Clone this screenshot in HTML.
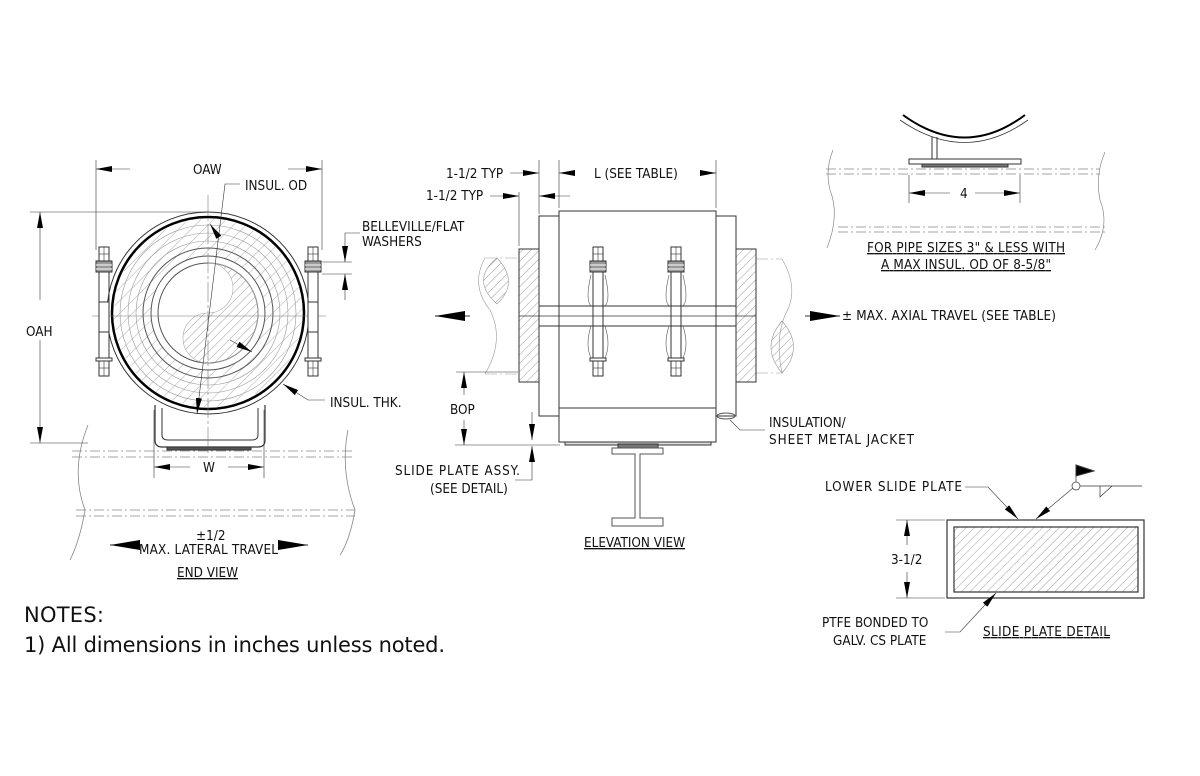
<!DOCTYPE html>
<html><head><meta charset="utf-8"><style>
html,body{margin:0;padding:0;background:#fff;width:1200px;height:776px;overflow:hidden}
svg{display:block}
text{font-family:"DejaVu Sans Condensed","Liberation Sans",sans-serif;font-size:13.4px;fill:#111}
</style></head><body>
<svg width="1200" height="776" viewBox="0 0 1200 776" xmlns="http://www.w3.org/2000/svg">
<defs>
<pattern id="h" width="6" height="6" patternUnits="userSpaceOnUse" patternTransform="rotate(45)">
<line x1="0" y1="0" x2="0" y2="6" stroke="#777" stroke-width="0.7"/></pattern>
<pattern id="hw" width="9" height="9" patternUnits="userSpaceOnUse" patternTransform="rotate(45)">
<line x1="0" y1="0" x2="0" y2="9" stroke="#888" stroke-width="0.7"/></pattern>
<marker id="a" markerWidth="16" markerHeight="6" refX="16" refY="3" orient="auto" markerUnits="userSpaceOnUse"><path d="M0,0 L16,3 L0,6 z" fill="#000"/></marker>
<marker id="b" markerWidth="30" markerHeight="10" refX="30" refY="5" orient="auto" markerUnits="userSpaceOnUse"><path d="M0,0 L30,5 L0,10 z" fill="#000"/></marker>
<g id="bolt">
<rect x="-5" y="0" width="10" height="14" fill="#fff" stroke="#333"/>
<line x1="0" y1="0" x2="0" y2="14" stroke="#333" stroke-width=".6"/>
<line x1="-5" y1="7" x2="5" y2="7" stroke="#333" stroke-width=".6"/>
<rect x="-8" y="14" width="16" height="11" fill="#999" stroke="#333"/>
<line x1="-8" y1="18" x2="8" y2="18" stroke="#fff"/><line x1="-8" y1="22" x2="8" y2="22" stroke="#fff"/>
<rect x="-5" y="25" width="10" height="86" fill="none" stroke="#333"/>
<rect x="-8" y="111" width="16" height="3" fill="#fff" stroke="#333"/>
<rect x="-5" y="114" width="10" height="15" fill="#fff" stroke="#333"/>
<line x1="0" y1="114" x2="0" y2="129" stroke="#333" stroke-width=".6"/>
<line x1="-5" y1="121" x2="5" y2="121" stroke="#333" stroke-width=".6"/>
</g>
</defs>
<g fill="none" stroke="#333" stroke-width="1">
<path d="M88,425 Q70,470 85,510 Q80,540 70,560" stroke="#888" stroke-width=".8"/>
<path d="M348,430 Q340,470 355,510 Q350,540 340,555" stroke="#888" stroke-width=".8"/>
<g stroke="#888" stroke-width=".8" stroke-dasharray="10,3,2,3">
<line x1="72" y1="451" x2="352" y2="451"/><line x1="72" y1="457" x2="352" y2="457"/>
<line x1="76" y1="510" x2="355" y2="510"/><line x1="76" y1="516" x2="355" y2="516"/></g>
<path d="M155,405 L155,440 Q155,447 162,447 L258,447 Q265,447 265,440 L265,405" stroke-width="1.2"/>
<path d="M162,408 L162,435 Q162,440 168,440 L252,440 Q258,440 258,435 L258,408"/>
<rect x="167" y="447" width="84" height="3" fill="#555"/>
<circle cx="208" cy="313" r="101" stroke-width="1"/>
<circle cx="208" cy="313" r="96" stroke="#000" stroke-width="2.5"/>
<circle cx="208" cy="313" r="94" fill="url(#hw)" stroke="none"/>
<circle cx="208" cy="313" r="88" stroke="#999" stroke-width=".6"/>
<circle cx="208" cy="313" r="80" stroke="#999" stroke-width=".6"/>
<circle cx="208" cy="313" r="72" stroke="#999" stroke-width=".6"/>
<circle cx="208" cy="313" r="65" stroke="#555"/>
<circle cx="208" cy="313" r="57" stroke="#555" fill="#fff"/>
<circle cx="208" cy="313" r="50" stroke="#555"/>
<path d="M208,263 A50,50 0 0 1 208,363 A25,25 0 0 1 208,313 A25,25 0 0 0 208,263 Z" fill="url(#h)" stroke="#aaa" stroke-width=".6"/>
<line x1="208" y1="195" x2="208" y2="455" stroke="#777" stroke-width=".6" stroke-dasharray="20,3,3,3"/>
<line x1="92" y1="316" x2="326" y2="316" stroke="#777" stroke-width=".6"/>
<use href="#bolt" x="104" y="247"/>
<use href="#bolt" x="313" y="247"/>
<rect x="99" y="302" width="10" height="30" fill="#fff" stroke="#333"/>
<rect x="308" y="302" width="10" height="30" fill="#fff" stroke="#333"/>
<line x1="96" y1="160" x2="96" y2="250" stroke-width=".6"/>
<line x1="322" y1="160" x2="322" y2="250" stroke-width=".6"/>
<line x1="130" y1="169" x2="96" y2="169" stroke-width=".6" marker-end="url(#a)"/>
<line x1="288" y1="169" x2="322" y2="169" stroke-width=".6" marker-end="url(#a)"/>
<line x1="30" y1="212" x2="208" y2="212" stroke-width=".6"/>
<line x1="30" y1="443" x2="88" y2="443" stroke-width=".6"/>
<line x1="40" y1="300" x2="40" y2="212" stroke-width=".6" marker-end="url(#a)"/>
<line x1="40" y1="340" x2="40" y2="443" stroke-width=".6" marker-end="url(#a)"/>
<line x1="154" y1="410" x2="154" y2="478" stroke-width=".6"/>
<line x1="264" y1="410" x2="264" y2="478" stroke-width=".6"/>
<line x1="190" y1="467" x2="154" y2="467" stroke-width=".6" marker-end="url(#a)"/>
<line x1="228" y1="467" x2="264" y2="467" stroke-width=".6" marker-end="url(#a)"/>
<line x1="140" y1="545" x2="110" y2="545" marker-end="url(#b)"/>
<line x1="278" y1="545" x2="308" y2="545" marker-end="url(#b)"/>
<polyline points="240,184 225,184 197,414" stroke-width=".6" marker-end="url(#a)"/>
<line x1="214" y1="230" x2="210" y2="224" stroke-width=".6" marker-end="url(#a)"/>
<line x1="230" y1="340" x2="252" y2="352" stroke-width=".6" marker-end="url(#a)"/>
<polyline points="325,400 308,400 283,384" stroke-width=".6" marker-end="url(#a)"/>
<polyline points="360,233 345,233 345,262" stroke-width=".6" marker-end="url(#a)"/>
<line x1="345" y1="300" x2="345" y2="274" stroke-width=".6" marker-end="url(#a)"/>
<line x1="322" y1="262" x2="352" y2="262" stroke-width=".6"/>
<line x1="322" y1="274" x2="352" y2="274" stroke-width=".6"/>

<path d="M497,258 Q470,280 497,304 Q520,282 497,258Z" fill="url(#h)" stroke="#999" stroke-width=".6"/>
<path d="M485,258 L519,258 M485,374 L519,374" stroke="#999" stroke-width=".6" stroke-dasharray="12,3,2,3"/>
<path d="M485,258 Q470,285 490,310 Q505,340 485,374" stroke="#999" stroke-width=".6"/>
<path d="M782,321 Q760,347 782,373 Q805,347 782,321Z" fill="url(#h)" stroke="#999" stroke-width=".6"/>
<path d="M756,259 L782,259 M756,373 L782,373" stroke="#999" stroke-width=".6" stroke-dasharray="12,3,2,3"/>
<path d="M782,259 Q800,290 785,315 Q775,340 782,373" stroke="#999" stroke-width=".6"/>
<rect x="519" y="249" width="20" height="133" fill="url(#h)"/>
<rect x="736" y="249" width="20" height="133" fill="url(#h)"/>
<rect x="539" y="216" width="20" height="200"/>
<rect x="716" y="216" width="20" height="200"/>
<rect x="559" y="211" width="157" height="95"/>
<rect x="559" y="326" width="157" height="116"/>
<line x1="559" y1="408" x2="716" y2="408"/>
<line x1="539" y1="306" x2="736" y2="306"/><line x1="539" y1="326" x2="736" y2="326"/>
<line x1="519" y1="316" x2="756" y2="316" stroke-width=".7"/>
<rect x="565" y="442" width="146" height="3" fill="#ddd"/>
<rect x="618" y="444" width="40" height="4" fill="#777"/>
<path d="M612,448 H663 V454 H640 V518 H663 V526 H612 V518 H635 V454 H612 Z" stroke="#555"/>
<ellipse cx="726" cy="416" rx="9" ry="3" stroke="#555"/>
<use href="#bolt" x="598" y="247"/>
<use href="#bolt" x="676" y="247"/>
<path d="M591,275 Q585,300 591,306 M605,275 Q611,300 605,306 M591,326 Q585,345 591,358 M605,326 Q611,345 605,358" stroke="#555" stroke-width=".6"/>
<path d="M669,275 Q663,300 669,306 M683,275 Q689,300 683,306 M669,326 Q663,345 669,358 M683,326 Q689,345 683,358" stroke="#555" stroke-width=".6"/>
<line x1="470" y1="316" x2="435" y2="316" marker-end="url(#b)"/>
<line x1="805" y1="316" x2="840" y2="316" marker-end="url(#b)"/>
<line x1="539" y1="160" x2="539" y2="214" stroke-width=".6"/>
<line x1="559" y1="160" x2="559" y2="208" stroke-width=".6"/>
<line x1="716" y1="160" x2="716" y2="208" stroke-width=".6"/>
<line x1="519" y1="192" x2="519" y2="246" stroke-width=".6"/>
<line x1="510" y1="173" x2="539" y2="173" stroke-width=".6" marker-end="url(#a)"/>
<line x1="575" y1="173" x2="559" y2="173" stroke-width=".6" marker-end="url(#a)"/>
<line x1="700" y1="173" x2="716" y2="173" stroke-width=".6" marker-end="url(#a)"/>
<line x1="490" y1="196" x2="519" y2="196" stroke-width=".6" marker-end="url(#a)"/>
<line x1="570" y1="196" x2="539" y2="196" stroke-width=".6" marker-end="url(#a)"/>
<line x1="456" y1="372" x2="518" y2="372" stroke-width=".6"/>
<line x1="455" y1="445" x2="560" y2="445" stroke-width=".6"/>
<line x1="464" y1="395" x2="464" y2="372" stroke-width=".6" marker-end="url(#a)"/>
<line x1="464" y1="420" x2="464" y2="445" stroke-width=".6" marker-end="url(#a)"/>
<line x1="532" y1="412" x2="532" y2="440" stroke-width=".6" marker-end="url(#a)"/>
<polyline points="515,480 532,480 532,446" stroke-width=".6" marker-end="url(#a)"/>
<polyline points="765,430 740,430 730,420" stroke-width=".6"/>

<path d="M833,150 Q825,170 830,190 Q840,215 827,248" stroke="#888" stroke-width=".7"/>
<path d="M1105,152 Q1095,175 1100,200 Q1110,225 1095,250" stroke="#888" stroke-width=".7"/>
<g stroke="#888" stroke-width=".7" stroke-dasharray="10,3,2,3">
<line x1="826" y1="169" x2="1100" y2="169"/><line x1="826" y1="174" x2="1100" y2="174"/>
<line x1="838" y1="227" x2="1106" y2="227"/><line x1="838" y1="232" x2="1106" y2="232"/></g>
<path d="M903,115 Q965,160 1025,115" stroke="#000" stroke-width="2"/>
<path d="M900,120 Q965,165 1028,120" stroke-width=".8"/>
<path d="M932,137 V159 M937,137 V159"/>
<rect x="909" y="159" width="112" height="5" fill="#fff"/>
<rect x="922" y="164" width="86" height="3" fill="#777"/>
<line x1="909" y1="175" x2="909" y2="203" stroke-width=".6"/>
<line x1="1020" y1="175" x2="1020" y2="203" stroke-width=".6"/>
<line x1="950" y1="193" x2="909" y2="193" stroke-width=".6" marker-end="url(#a)"/>
<line x1="975" y1="193" x2="1020" y2="193" stroke-width=".6" marker-end="url(#a)"/>

<rect x="947" y="520" width="197" height="78" stroke-width="1.2"/>
<rect x="954" y="527" width="184" height="65" fill="url(#h)" stroke-width="1.2"/>
<line x1="896" y1="520" x2="945" y2="520" stroke-width=".6"/>
<line x1="896" y1="598" x2="945" y2="598" stroke-width=".6"/>
<line x1="907" y1="545" x2="907" y2="520" stroke-width=".6" marker-end="url(#a)"/>
<line x1="907" y1="572" x2="907" y2="598" stroke-width=".6" marker-end="url(#a)"/>
<polyline points="965,487 988,487 1018,519" stroke-width=".6" marker-end="url(#a)"/>
<line x1="1073" y1="488" x2="1036" y2="519" stroke-width=".6" marker-end="url(#a)"/>
<circle cx="1076" cy="486" r="4" stroke-width=".7"/>
<line x1="1080" y1="486" x2="1142" y2="486" stroke-width=".7"/>
<path d="M1100,486 V497 L1112,486" stroke-width=".7"/>
<line x1="1076" y1="482" x2="1076" y2="466" stroke-width=".7"/>
<path d="M1076,465 L1094,471 L1076,476 Z" fill="#000"/>
<polyline points="945,632 960,632 996,593" stroke-width=".6" marker-end="url(#a)"/>
</g>
<text x="193" y="174">OAW</text>
<text x="245" y="190">INSUL. OD</text>
<text x="362" y="231">BELLEVILLE/FLAT</text>
<text x="362" y="246">WASHERS</text>
<text x="26" y="336">OAH</text>
<text x="330" y="407">INSUL. THK.</text>
<text x="203" y="472">W</text>
<text x="196" y="540">±1/2</text>
<text x="139" y="554" textLength="139">MAX. LATERAL TRAVEL</text>
<text x="177" y="577" text-decoration="underline">END VIEW</text>
<text x="24" y="622" style="font-family:'DejaVu Sans','Liberation Sans',sans-serif;font-size:21px" textLength="80">NOTES:</text>
<text x="24" y="652" style="font-family:'DejaVu Sans','Liberation Sans',sans-serif;font-size:21px" textLength="421">1) All dimensions in inches unless noted.</text>
<text x="446" y="178">1-1/2 TYP</text>
<text x="426" y="200">1-1/2 TYP</text>
<text x="594" y="178">L (SEE TABLE)</text>
<text x="842" y="320" textLength="214">± MAX. AXIAL TRAVEL (SEE TABLE)</text>
<text x="450" y="414">BOP</text>
<text x="769" y="427">INSULATION/</text>
<text x="769" y="444" textLength="145">SHEET METAL JACKET</text>
<text x="395" y="475" textLength="125">SLIDE PLATE ASSY.</text>
<text x="430" y="493">(SEE DETAIL)</text>
<text x="584" y="547" text-decoration="underline">ELEVATION VIEW</text>
<text x="960" y="198">4</text>
<text x="867" y="252" text-decoration="underline" textLength="198">FOR PIPE SIZES 3" &amp; LESS WITH</text>
<text x="881" y="269" text-decoration="underline" textLength="170">A MAX INSUL. OD OF 8-5/8"</text>
<text x="825" y="491" textLength="137">LOWER SLIDE PLATE</text>
<text x="891" y="564">3-1/2</text>
<text x="822" y="627">PTFE BONDED TO</text>
<text x="833" y="645">GALV. CS PLATE</text>
<text x="983" y="636" text-decoration="underline" textLength="127">SLIDE PLATE DETAIL</text>
</svg>
</body></html>
